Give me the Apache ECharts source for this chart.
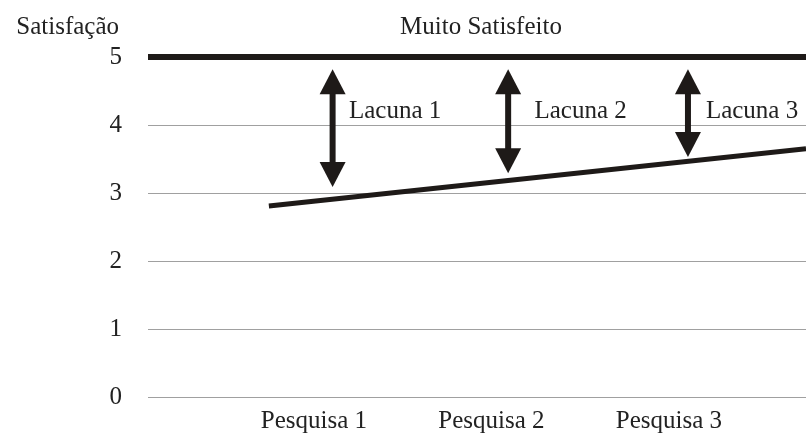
<!DOCTYPE html>
<html>
<head>
<meta charset="utf-8">
<script src="https://cdn.jsdelivr.net/npm/echarts@6/dist/echarts.min.js"></script>
<style>
  html, body { margin: 0; padding: 0; background: #fff; }
  #chart { width: 806px; height: 440px; }
</style>
</head>
<body>
<div id="chart"></div>
<script>
// Survey rounds shown on the horizontal axis
const categories = ['Pesquisa 1', 'Pesquisa 2', 'Pesquisa 3'];
const categoryPos = [1, 2, 3];
const yTicks = [0, 1, 2, 3, 4, 5];
const yTitle = 'Satisfação';

// "Muito Satisfeito" reference level
const targetLevel = 5;
const targetName = 'Muito Satisfeito';

// Satisfaction trend (start and end of the line)
const trendX = [0.746, 3.772];
const trendY = [2.81, 3.65];

// Gaps between the reference level and the trend
const gapNames = ['Lacuna 1', 'Lacuna 2', 'Lacuna 3'];
const gapX = [1.105, 2.094, 3.107];
const gapTop = [4.82, 4.82, 4.82];
const gapBottom = [3.09, 3.29, 3.53];
const gapLabelX = [1.197, 2.242, 3.208];
const gapLabelY = [4.2, 4.2, 4.2];

const X_MIN = 0.065, X_MAX = 3.772;
const INK = '#1e1a18';
const FONT = 'Liberation Serif';

const chart = echarts.init(document.getElementById('chart'), null, { renderer: 'canvas' });

const gapData = gapX.map((x, i) => [x, gapTop[i], gapBottom[i], gapLabelX[i], gapLabelY[i]]);

chart.setOption({
  animation: false,
  backgroundColor: '#fff',
  textStyle: { fontFamily: FONT },
  graphic: [
    {
      type: 'text', x: 481, y: 27,
      style: { text: targetName, fontFamily: FONT, fontSize: 25, fill: '#222', align: 'center', verticalAlign: 'middle' }
    },
    {
      type: 'text', x: 119, y: 27,
      style: { text: yTitle, fontFamily: FONT, fontSize: 25, fill: '#222', align: 'right', verticalAlign: 'middle' }
    }
  ],
  grid: { left: 148, right: 0, top: 57, bottom: 43 },
  xAxis: {
    type: 'value',
    min: X_MIN,
    max: X_MAX,
    axisLine: { show: false },
    axisTick: { show: false },
    splitLine: { show: false },
    axisLabel: {
      customValues: categoryPos,
      formatter: v => categories[categoryPos.indexOf(Math.round(v))] || '',
      fontFamily: FONT,
      fontSize: 25,
      color: '#222',
      margin: 12
    }
  },
  yAxis: {
    type: 'value',
    min: yTicks[0],
    max: yTicks[yTicks.length - 1],
    interval: 1,
    axisLine: { show: false },
    axisTick: { show: false },
    axisLabel: { fontFamily: FONT, fontSize: 25, color: '#222', margin: 26 },
    splitLine: { show: true, lineStyle: { color: '#a0a0a0', width: 1 } }
  },
  series: [
    {
      name: targetName,
      type: 'line',
      data: [[X_MIN, targetLevel], [X_MAX, targetLevel]],
      symbol: 'none',
      lineStyle: { color: INK, width: 6 },
      z: 3
    },
    {
      name: yTitle,
      type: 'line',
      data: trendX.map((x, i) => [x, trendY[i]]),
      symbol: 'none',
      lineStyle: { color: INK, width: 5, cap: 'butt' },
      z: 3
    },
    {
      name: 'Lacunas',
      type: 'custom',
      data: gapData,
      encode: { x: 0, y: [1, 2] },
      z: 4,
      renderItem(params, api) {
        const top = api.coord([api.value(0), api.value(1)]);
        const bot = api.coord([api.value(0), api.value(2)]);
        const lab = api.coord([api.value(3), api.value(4)]);
        const cx = top[0];
        const hw = 13, hh = 25, sw = 3;
        return {
          type: 'group',
          children: [
            { type: 'polygon', shape: { points: [[cx, top[1]], [cx - hw, top[1] + hh], [cx + hw, top[1] + hh]] }, style: { fill: INK } },
            { type: 'rect', shape: { x: cx - sw, y: top[1] + hh - 1, width: sw * 2, height: bot[1] - top[1] - hh * 2 + 2 }, style: { fill: INK } },
            { type: 'polygon', shape: { points: [[cx, bot[1]], [cx - hw, bot[1] - hh], [cx + hw, bot[1] - hh]] }, style: { fill: INK } },
            { type: 'text', x: lab[0], y: lab[1], style: {
                text: gapNames[params.dataIndex], fill: '#222',
                fontFamily: FONT, fontSize: 25, align: 'left', verticalAlign: 'middle'
            } }
          ]
        };
      }
    }
  ]
});
</script>
</body>
</html>
